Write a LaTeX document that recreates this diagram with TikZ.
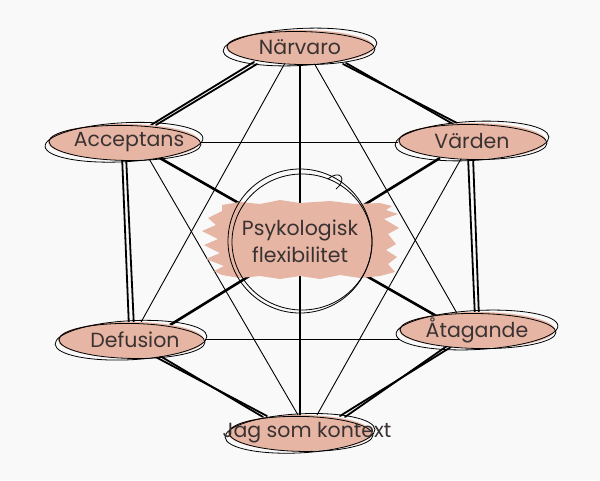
\documentclass[tikz,border=0pt]{standalone}
\usepackage{fontspec}
\setmainfont{Poppins}
\usetikzlibrary{backgrounds}
\definecolor{bgc}{HTML}{F9F9F9}
\definecolor{pinkc}{HTML}{E6B5A4}
\definecolor{txt}{HTML}{3A3232}
\pgfdeclarelayer{bgl}
\pgfdeclarelayer{edges}
\pgfdeclarelayer{blobs}
\pgfsetlayers{bgl,edges,blobs,main}
\newcommand\myblob[4]{%
  \fill[pinkc] ([shift={(#4,0)}]#1.center) ellipse[x radius=#2, y radius=#3];
  \draw[outl,rotate=3] ([shift={(#4,0)}]#1.center) ellipse[x radius=#2+3, y radius=#3+1.5];
  \draw[outl,rotate=-1] ([shift={(#4+1,1)}]#1.center) ellipse[x radius=#2, y radius=#3-0.5];
}
\begin{document}
\begin{tikzpicture}[x=1pt,y=-1pt,
  lbl/.style={font=\fontsize{20.5}{27}\selectfont, text=txt, inner sep=0pt},
  thickln/.style={line width=1.8pt, line cap=round},
  spoke/.style={line width=2.6pt},
  thinln/.style={line width=0.9pt},
  outl/.style={line width=0.8pt}]
\useasboundingbox (0,0) rectangle (600,480);
\begin{pgfonlayer}{bgl}
  \fill[bgc] (0,0) rectangle (600,480);
\end{pgfonlayer}

\node[lbl] (narvaro) at (300,47) {Närvaro};
\node[lbl] (acceptans) at (129,142) {Acceptans};
\node[lbl] (varden) at (472,141) {Värden};
\node[lbl] (defusion) at (135,340) {Defusion};
\node[lbl] (atagande) at (477,330) {Åtagande};
\node[lbl] (jag) at (307,433) {Jag som kontext};
\node[lbl, align=center] (psyk) at (300,241) {Psykologisk\\flexibilitet};

\begin{pgfonlayer}{edges}
  % outer hexagon, double sketchy lines
  \draw[thickln] ([shift={(-46,15)}]narvaro.center) -- ([shift={(22,-17)}]acceptans.center);
  \draw[thickln] ([shift={(-43,17)}]narvaro.center) -- ([shift={(27,-17)}]acceptans.center);
  \draw[thickln] ([shift={(46,16)}]narvaro.center) -- ([shift={(-19,-17)}]varden.center);
  \draw[thickln] ([shift={(43,17)}]narvaro.center) -- ([shift={(-15,-18)}]varden.center);
  \draw[thickln] ([shift={(-7,13)}]acceptans.center) -- ([shift={(-6,-12)}]defusion.center);
  \draw[thickln] ([shift={(-3,13)}]acceptans.center) -- ([shift={(-1,-12)}]defusion.center);
  \draw[thickln] ([shift={(-4,15)}]varden.center) -- ([shift={(-2,-12)}]atagande.center);
  \draw[thickln] ([shift={(1,15)}]varden.center) -- ([shift={(2,-12)}]atagande.center);
  \draw[thickln] ([shift={(15,14)}]defusion.center) -- ([shift={(-40,-17)}]jag.center);
  \draw[thickln] ([shift={(20,13)}]defusion.center) -- ([shift={(-44,-16)}]jag.center);
  \draw[thickln] ([shift={(-26,17)}]atagande.center) -- ([shift={(33,-17)}]jag.center);
  \draw[thickln] ([shift={(-30,16)}]atagande.center) -- ([shift={(38,-16)}]jag.center);
  % spokes through centre
  \draw[spoke] ([shift={(29,15)}]acceptans.center) -- ([shift={(-37,-12)}]atagande.center);
  \draw[spoke] ([shift={(-32,17)}]varden.center) -- ([shift={(35,-15)}]defusion.center);
  \draw[spoke] ([shift={(0,15)}]narvaro.center) -- ([shift={(-7,-17)}]jag.center);
  % thin cross lines
  \draw[thinln] ([shift={(71,0)}]acceptans.center) -- ([shift={(-74,1)}]varden.center);
  \draw[thinln] ([shift={(70,-1)}]defusion.center) -- ([shift={(-77,9)}]atagande.center);
  \draw[thinln] ([shift={(-15,16)}]narvaro.center) -- ([shift={(5,-16)}]defusion.center);
  \draw[thinln] ([shift={(14,16)}]narvaro.center) -- ([shift={(-19,-15)}]atagande.center);
  \draw[thinln] ([shift={(19,15)}]acceptans.center) -- ([shift={(-9,-18)}]jag.center);
  \draw[thinln] ([shift={(-10,16)}]varden.center) -- ([shift={(10,-18)}]jag.center);
\end{pgfonlayer}

\begin{pgfonlayer}{blobs}
  \myblob{narvaro}{74}{17}{0}
  \myblob{acceptans}{76}{18}{-5}
  \myblob{varden}{74}{18}{0}
  \myblob{defusion}{73}{18}{-4}
  \myblob{atagande}{78}{18}{0}
  \myblob{jag}{72}{18}{-7}
  % brush stroke behind the centre text
  \fill[pinkc] (222,205) -- (240,202) -- (260,204) -- (280,200) -- (300,203) -- (330,201)
    -- (355,204) -- (380,203) -- (392,206) -- (386,210) -- (398,214) -- (384,219)
    -- (399,228) -- (388,234) -- (396,244) -- (386,250) -- (397,257) -- (388,264)
    -- (395,272) -- (380,276) -- (360,278) -- (340,275) -- (320,279) -- (300,276)
    -- (280,279) -- (260,276) -- (240,278) -- (222,275) -- (214,271) -- (224,266)
    -- (206,259) -- (220,253) -- (204,245) -- (218,239) -- (202,231) -- (216,225)
    -- (208,218) -- (222,211) -- cycle;
  \draw[outl] (psyk.center) circle[radius=72];
  \draw[outl] ([shift={(2,1)}]psyk.center) ellipse[x radius=70, y radius=68];
  \draw[outl] ([shift={(36,-52)}]psyk.center) .. controls ([shift={(48,-62)}]psyk.center) and ([shift={(40,-72)}]psyk.center) .. ([shift={(28,-62)}]psyk.center);
\end{pgfonlayer}
\end{tikzpicture}
\end{document}
